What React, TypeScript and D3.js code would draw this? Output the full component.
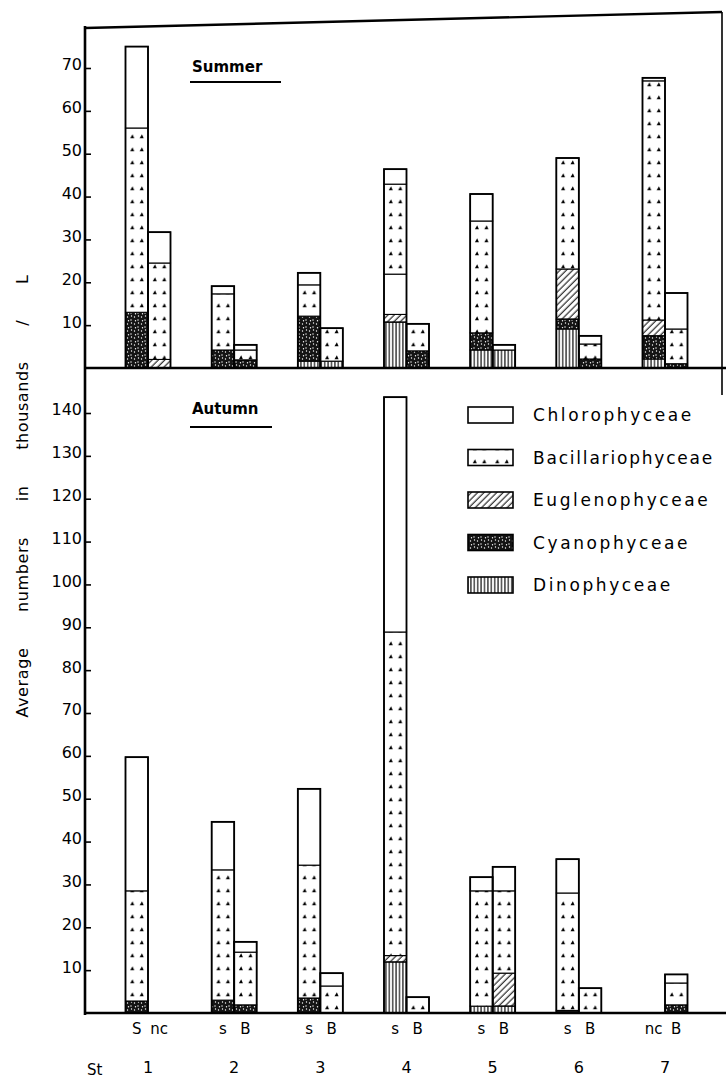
import React, { useRef, useEffect } from 'react';
import * as d3 from 'd3';

// stations and the two samples drawn for each (surface / bottom, nc = not collected)
const stations = ['1', '2', '3', '4', '5', '6', '7'];
const barLabels = ['S', 'nc', 's', 'B', 's', 'B', 's', 'B', 's', 'B', 's', 'B', 'nc', 'B'];
const subSamples = ['first', 'second'];

// stacking order, bottom to top
const groups = ['Dinophyceae', 'Cyanophyceae', 'Euglenophyceae', 'Unmarked', 'Bacillariophyceae', 'Chlorophyceae'];
const legendGroups = ['Chlorophyceae', 'Bacillariophyceae', 'Euglenophyceae', 'Cyanophyceae', 'Dinophyceae'];

const summerTicks = [10, 20, 30, 40, 50, 60, 70];
const autumnTicks = [10, 20, 30, 40, 50, 60, 70, 80, 90, 100, 110, 120, 130, 140];

// Summer (thousands / L), one value per bar: 1S,1nc,2S,2B,...,7S,7B
const summerDino = [0, 0, 0, 0, 1.6, 1.6, 10.7, 0, 4.2, 4.2, 9.1, 0, 2.1, 0];
const summerCyano = [13, 0, 4.2, 1.9, 10.5, 0, 0, 4, 4, 0, 2.3, 2.1, 5.4, 1];
const summerEugleno = [0, 2, 0, 0, 0, 0, 1.8, 0, 0, 0, 11.7, 0, 3.7, 0];
const summerUnmarked = [0, 0, 0, 0, 0, 0, 9.4, 0, 0, 0, 0, 0, 0, 0];
const summerBacillario = [43, 22.5, 13.1, 2.3, 7.3, 7.7, 21, 6.3, 26.1, 0, 25.9, 3.5, 55.8, 8.1];
const summerChloro = [19, 7.2, 1.8, 1.2, 2.8, 0, 3.5, 0, 6.3, 1.2, 0, 1.9, 0.7, 8.4];

// Autumn
const autumnDino = [0, 0, 0, 0, 0, 0, 11.9, 0, 1.6, 1.6, 0, 0, 0, 0];
const autumnCyano = [2.8, 0, 3, 1.9, 3.5, 0, 0, 0, 0, 0, 0.6, 0, 0, 1.9];
const autumnEugleno = [0, 0, 0, 0, 0, 0, 1.5, 0, 0, 7.7, 0, 0, 0, 0];
const autumnUnmarked = [0, 0, 0, 0, 0, 0, 0, 0, 0, 0, 0, 0, 0, 0];
const autumnBacillario = [25.7, 0, 30.4, 12.3, 31, 6.3, 75.5, 3.7, 26.9, 19.2, 27.4, 5.8, 0, 5.1];
const autumnChloro = [31.2, 0, 11.2, 2.4, 17.8, 3, 54.8, 0, 3.2, 5.6, 7.9, 0, 0, 2];

const FONT = '"DejaVu Sans", sans-serif';

const buildRows = (dino, cyano, eug, unm, baci, chloro) =>
  dino.map((_, i) => ({
    Dinophyceae: dino[i],
    Cyanophyceae: cyano[i],
    Euglenophyceae: eug[i],
    Unmarked: unm[i],
    Bacillariophyceae: baci[i],
    Chlorophyceae: chloro[i],
  }));

const App = () => {
  const svgRef = useRef(null);

  useEffect(() => {
    const svg = d3.select(svgRef.current);
    svg.selectAll('*').remove();
    const defs = svg.append('defs');

    // Patterns
    const dino = defs.append('pattern').attr('id', 'dino')
      .attr('patternUnits', 'userSpaceOnUse').attr('width', 3.4).attr('height', 8);
    dino.append('line').attr('x1', 1.7).attr('x2', 1.7).attr('y1', 0).attr('y2', 8)
      .attr('stroke', '#000').attr('stroke-width', 1.1);

    const hatch = defs.append('pattern').attr('id', 'hatch')
      .attr('patternUnits', 'userSpaceOnUse').attr('width', 4.5).attr('height', 4.5)
      .attr('patternTransform', 'rotate(45)');
    hatch.append('line').attr('x1', 2).attr('x2', 2).attr('y1', 0).attr('y2', 4.5)
      .attr('stroke', '#000').attr('stroke-width', 1);

    const cyano = defs.append('pattern').attr('id', 'cyano')
      .attr('patternUnits', 'userSpaceOnUse').attr('width', 7).attr('height', 7);
    cyano.append('rect').attr('width', 7).attr('height', 7).attr('fill', '#141414');
    [[1.5, 2], [5, 5], [5.5, 1], [2.5, 5.8]].forEach(([cx, cy]) =>
      cyano.append('circle').attr('cx', cx).attr('cy', cy).attr('r', 0.7).attr('fill', '#fff'));

    const baciPattern = (id, x, w) => {
      const p = defs.append('pattern').attr('id', id)
        .attr('patternUnits', 'userSpaceOnUse')
        .attr('x', x).attr('y', 0).attr('width', w).attr('height', 13);
      p.append('rect').attr('width', w).attr('height', 13).attr('fill', '#fff');
      [w * 0.3, w * 0.72].forEach(cx =>
        p.append('path')
          .attr('d', `M${cx - 2},${8.2} L${cx + 2},${8.2} L${cx + 0.3},${4.2} Z`)
          .attr('fill', '#000'));
    };

    // Scales
    const x = d3.scalePoint().domain(stations).range([148, 665]);
    const xSub = d3.scaleBand().domain(subSamples).range([-22.5, 22.5]);
    const bw = xSub.bandwidth();
    const barX = i => x(stations[Math.floor(i / 2)]) + xSub(subSamples[i % 2]);

    const ySummer = d3.scaleLinear().domain([0, 70]).range([368, 68]);
    const yAutumn = d3.scaleLinear().domain([0, 140]).range([1013, 413]);

    const panels = [
      {
        name: 'summer', y: ySummer, ticks: summerTicks,
        rows: buildRows(summerDino, summerCyano, summerEugleno, summerUnmarked, summerBacillario, summerChloro),
      },
      {
        name: 'autumn', y: yAutumn, ticks: autumnTicks,
        rows: buildRows(autumnDino, autumnCyano, autumnEugleno, autumnUnmarked, autumnBacillario, autumnChloro),
      },
    ];

    const fillFor = (key, panel, i) => {
      if (key === 'Dinophyceae') return 'url(#dino)';
      if (key === 'Cyanophyceae') return 'url(#cyano)';
      if (key === 'Euglenophyceae') return 'url(#hatch)';
      if (key === 'Bacillariophyceae') return `url(#baci-${panel}-${i})`;
      return '#fff';
    };

    const g = svg.append('g');

    panels.forEach(panel => {
      panel.rows.forEach((_, i) => baciPattern(`baci-${panel.name}-${i}`, barX(i), bw));

      const stacked = d3.stack().keys(groups)(panel.rows);
      stacked.forEach(series => {
        g.append('g').selectAll('rect')
          .data(series)
          .join('rect')
          .attr('x', (d, i) => barX(i))
          .attr('y', d => panel.y(d[1]))
          .attr('width', bw)
          .attr('height', d => panel.y(d[0]) - panel.y(d[1]))
          .attr('fill', (d, i) => fillFor(series.key, panel.name, i))
          .attr('stroke', '#000')
          .attr('stroke-width', 1.1)
          .filter(d => d[1] - d[0] <= 0)
          .remove();
      });

      // bar outlines
      const totals = panel.rows.map(r => d3.sum(groups, k => r[k]));
      g.append('g').selectAll('rect')
        .data(totals)
        .join('rect')
        .attr('x', (d, i) => barX(i))
        .attr('y', d => panel.y(d))
        .attr('width', bw)
        .attr('height', d => panel.y(0) - panel.y(d))
        .attr('fill', 'none')
        .attr('stroke', '#000')
        .attr('stroke-width', 1.8)
        .filter(d => d <= 0)
        .remove();

      // y axis ticks (pointing inward)
      const axis = g.append('g')
        .attr('transform', 'translate(85,0)')
        .call(d3.axisLeft(panel.y).tickValues(panel.ticks).tickSize(-6).tickPadding(3));
      axis.select('.domain').remove();
      axis.selectAll('line').attr('stroke', '#000').attr('stroke-width', 1.6);
      axis.selectAll('text')
        .attr('dy', '0.12em')
        .attr('fill', '#000')
        .style('font-family', FONT)
        .style('font-size', '16px');
    });

    // frame
    const frame = g.append('g').attr('stroke', '#000').attr('fill', 'none');
    frame.append('path').attr('d', 'M85,28 L722,12').attr('stroke-width', 2.4);
    frame.append('path').attr('d', 'M722,12 L722,395').attr('stroke-width', 1.6);
    frame.append('path').attr('d', 'M85,26 L85,1015').attr('stroke-width', 2.6);
    frame.append('path').attr('d', `M85,${ySummer(0)} L726,${ySummer(0)}`).attr('stroke-width', 2.4);
    frame.append('path').attr('d', `M85,${yAutumn(0)} L726,${yAutumn(0)}`).attr('stroke-width', 2.4);

    // season titles
    [['Summer', 72, 82, 281], ['Autumn', 414, 427, 272]].forEach(([t, ty, ly, lx]) => {
      g.append('text').attr('x', 192).attr('y', ty).text(t)
        .style('font-family', FONT).style('font-size', '15px').style('font-weight', 'bold');
      g.append('line').attr('x1', 190).attr('x2', lx).attr('y1', ly).attr('y2', ly)
        .attr('stroke', '#000').attr('stroke-width', 2);
    });

    // legend
    const yLeg = d3.scalePoint().domain(legendGroups).range([415, 585]);
    legendGroups.forEach(k => {
      const cy = yLeg(k);
      let fill = '#fff';
      if (k === 'Bacillariophyceae') {
        baciPattern('baci-legend', 468, 22.5);
        fill = 'url(#baci-legend)';
      } else if (k !== 'Chlorophyceae') {
        fill = fillFor(k, '', 0);
      }
      g.append('rect').attr('x', 468).attr('y', cy - 8).attr('width', 45).attr('height', 16)
        .attr('fill', fill).attr('stroke', '#000').attr('stroke-width', 1.6);
      g.append('text').attr('x', 533).attr('y', cy + 6).text(k)
        .style('font-family', FONT).style('font-size', '17px')
        .style('letter-spacing', k === 'Bacillariophyceae' ? '1.8px' : '2.6px');
    });

    // x labels
    g.append('g').selectAll('text')
      .data(barLabels)
      .join('text')
      .attr('x', (d, i) => barX(i) + bw / 2)
      .attr('y', 1034)
      .attr('text-anchor', 'middle')
      .text(d => d)
      .style('font-family', FONT)
      .style('font-size', '15px');

    g.append('g').selectAll('text')
      .data(stations)
      .join('text')
      .attr('x', d => x(d))
      .attr('y', 1073)
      .attr('text-anchor', 'middle')
      .text(d => d)
      .style('font-family', FONT)
      .style('font-size', '16px');

    g.append('text').attr('x', 87).attr('y', 1075).text('St')
      .style('font-family', FONT).style('font-size', '15px');

    // y title
    g.append('text')
      .attr('transform', 'translate(28,496) rotate(-90)')
      .attr('text-anchor', 'middle')
      .text('Average numbers in thousands / L')
      .style('font-family', FONT)
      .style('font-size', '16px')
      .style('letter-spacing', '0.6px')
      .style('word-spacing', '30px');
  }, []);

  return (
    <svg
      ref={svgRef}
      width={726}
      height={1078}
      style={{ position: 'absolute', left: 0, top: 0, background: '#fff' }}
    />
  );
};

export default App;
